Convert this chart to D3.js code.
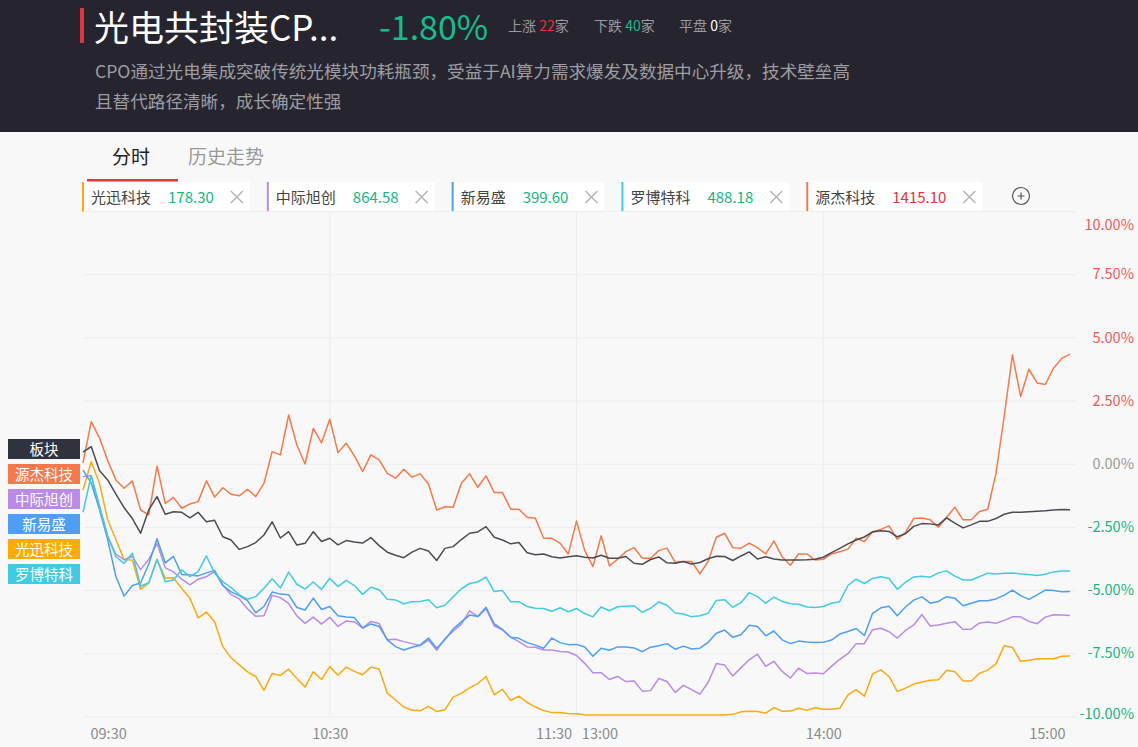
<!DOCTYPE html>
<html>
<head>
<meta charset="utf-8">
<script src="https://cdn.jsdelivr.net/npm/d3@7"></script>
<style>
  body { margin: 0; background: #f8f8f8; }
  svg { display: block; font-family: "Noto Sans CJK SC", "Noto Sans", sans-serif; }
</style>
</head>
<body>
<svg id="chart" width="1138" height="747"></svg>
<script>
// one sample every 2 minutes, 09:30 -> 11:30 | 13:00 -> 15:00 (240 trading minutes)
var step = 2

var sector = [0.48, 0.70, -0.25, -0.62, -1.18, -1.72, -2.15, -2.73, -1.8, -1.28,
  -1.98, -1.88, -1.90, -2.12, -1.9, -2.28, -2.22, -2.87, -3.0, -3.37,
  -3.26, -3.10, -2.80, -2.28, -2.92, -2.67, -3.2, -3.13, -2.67, -3.06,
  -2.93, -3.19, -3.02, -3.08, -3.12, -2.9, -3.22, -3.48, -3.6, -3.7,
  -3.48, -3.33, -3.43, -3.81, -3.33, -3.26, -2.98, -2.73, -2.68, -2.47,
  -2.89, -3.0, -3.15, -3.10, -3.5, -3.58, -3.55, -3.66, -3.71, -3.66,
  -3.62, -3.68, -3.71, -3.6, -3.72, -3.72, -3.65, -3.92, -3.96, -3.77,
  -3.67, -3.9, -3.92, -3.85, -3.95, -3.89, -3.74, -3.64, -3.65, -3.81,
  -3.63, -3.47, -3.75, -3.66, -3.75, -3.79, -3.79, -3.79, -3.78, -3.76,
  -3.68, -3.5, -3.33, -3.15, -3.0, -2.88, -2.68, -2.63, -2.66, -2.87,
  -2.75, -2.46, -2.35, -2.36, -2.40, -2.12, -2.33, -2.52, -2.40, -2.26,
  -2.26, -2.15, -1.98, -1.90, -1.90, -1.88, -1.86, -1.84, -1.81, -1.79, -1.80]

var yuanjie = [0.05, 1.69, 1.05, 0.15, -0.62, -0.95, -0.66, -1.81, -2.0, -0.07,
  -1.55, -1.31, -1.74, -1.57, -1.48, -0.66, -1.3, -0.93, -1.19, -1.25,
  -0.99, -1.28, -0.75, 0.5, 0.37, 1.95, 0.76, 0.01, 1.42, 0.85,
  1.78, 0.46, 0.83, 0.33, -0.29, 0.37, 0.17, -0.36, -0.55, -0.2,
  -0.51, -0.38, -0.78, -1.81, -1.68, -1.70, -0.75, -0.38, -0.91, -0.46,
  -1.12, -1.12, -1.78, -1.78, -2.10, -2.14, -2.93, -2.93, -3.13, -3.55,
  -2.25, -3.42, -4.05, -2.83, -4.02, -3.76, -3.46, -3.3, -3.72, -3.72,
  -3.42, -3.32, -3.88, -3.85, -3.85, -4.34, -3.85, -2.89, -2.73, -3.3,
  -3.32, -3.12, -3.3, -3.55, -3.04, -3.66, -4.0, -3.55, -3.55, -3.79,
  -3.76, -3.55, -3.46, -3.36, -2.93, -3.06, -2.67, -2.58, -2.44, -2.97,
  -2.7, -2.15, -2.13, -2.2, -2.49, -2.1, -1.7, -2.2, -2.2, -1.87,
  -1.78, -0.36, 1.9, 4.33, 2.68, 3.76, 3.22, 3.16, 3.8, 4.19, 4.36]

var zhongji = [-0.49, -0.45, -1.7, -2.85, -3.56, -3.78, -3.65, -4.17, -3.76, -3.13,
  -4.1, -4.26, -4.55, -4.77, -4.55, -4.45, -4.25, -4.78, -5.16, -5.33,
  -5.72, -6.02, -6.0, -5.19, -5.28, -5.51, -6.0, -6.3, -6.05, -6.33,
  -6.06, -6.42, -6.2, -6.24, -6.48, -6.22, -6.3, -6.95, -6.93, -7.02,
  -7.1, -7.17, -6.96, -7.36, -6.9, -6.61, -6.33, -5.8, -6.03, -5.72,
  -6.4, -6.55, -6.85, -7.02, -7.23, -7.24, -7.35, -7.35, -7.41, -7.43,
  -7.57, -7.88, -8.25, -8.25, -8.52, -8.4, -8.6, -8.58, -8.98, -8.96,
  -8.48, -8.6, -9.03, -8.75, -8.92, -9.1, -8.64, -7.89, -7.95, -8.38,
  -8.05, -7.74, -7.52, -8.0, -7.8, -8.2, -8.46, -8.07, -8.28, -8.26,
  -8.29, -8.0, -7.72, -7.5, -7.1, -7.1, -6.55, -6.49, -6.63, -6.88,
  -6.58, -6.36, -5.95, -6.4, -6.36, -6.29, -6.23, -6.54, -6.52, -6.28,
  -6.24, -6.29, -6.18, -6.04, -6.04, -6.22, -6.31, -6.05, -5.96, -5.97, -5.99]

var xinyisheng = [-0.23, -0.75, -1.78, -2.98, -4.45, -5.22, -4.8, -4.7, -3.95, -2.95,
  -3.9, -3.65, -4.36, -4.38, -4.42, -4.3, -4.2, -4.8, -5.05, -5.2,
  -5.4, -5.88, -5.63, -5.06, -5.14, -5.17, -5.67, -5.77, -5.3, -5.75,
  -5.63, -6.0, -6.05, -6.07, -6.48, -6.32, -6.42, -6.95, -7.22, -7.35,
  -7.24, -7.16, -6.88, -7.28, -6.95, -6.52, -6.24, -5.97, -6.03, -5.66,
  -6.32, -6.54, -6.85, -6.89, -7.06, -7.16, -7.28, -6.88, -7.06, -7.14,
  -7.13, -7.23, -7.6, -7.28, -7.36, -7.23, -7.23, -7.27, -7.42, -7.24,
  -7.18, -7.1, -7.32, -7.2, -7.31, -7.28, -7.05, -6.69, -6.56, -6.85,
  -6.75, -6.37, -6.42, -6.79, -6.6, -6.95, -7.1, -7.0, -7.04, -7.06,
  -7.05, -6.96, -6.72, -6.62, -6.5, -6.78, -5.9, -5.68, -5.62, -6.0,
  -5.65, -5.38, -5.25, -5.5, -5.43, -5.24, -5.3, -5.6, -5.5, -5.4,
  -5.4, -5.33, -5.18, -4.98, -5.2, -5.35, -5.17, -4.98, -5.0, -5.05, -5.04]

var guangxun = [-1.02, 0.1, -0.75, -2.2, -2.98, -3.78, -3.79, -4.95, -4.7, -3.77,
  -4.5, -4.49, -4.92, -5.3, -6.08, -5.85, -6.23, -7.22, -7.66, -7.94,
  -8.22, -8.4, -8.95, -8.28, -8.36, -8.11, -8.48, -8.82, -8.21, -8.52,
  -8.01, -8.35, -8.03, -8.2, -8.33, -8.03, -8.1, -9.06, -9.33, -9.61,
  -9.74, -9.76, -9.58, -9.79, -9.72, -9.22, -9.07, -8.85, -8.68, -8.40,
  -9.12, -8.91, -9.35, -9.18, -9.43, -9.61, -9.75, -9.83, -9.83, -9.87,
  -9.88, -9.92, -9.92, -9.92, -9.92, -9.92, -9.92, -9.92, -9.92, -9.92,
  -9.92, -9.92, -9.92, -9.92, -9.92, -9.92, -9.92, -9.92, -9.92, -9.9,
  -9.8, -9.78, -9.79, -9.85, -9.63, -9.78, -9.77, -9.66, -9.74, -9.64,
  -9.7, -9.7, -9.66, -9.13, -8.92, -9.18, -8.3, -8.14, -8.4, -9.0,
  -8.86, -8.7, -8.62, -8.55, -8.53, -8.15, -8.21, -8.58, -8.58, -8.27,
  -8.15, -7.9, -7.18, -7.25, -7.8, -7.76, -7.7, -7.7, -7.7, -7.6, -7.59]

var luobo = [-1.9, -0.45, -1.65, -2.85, -3.66, -3.92, -3.52, -4.83, -4.69, -3.76,
  -4.65, -4.58, -4.18, -4.45, -4.25, -3.63, -4.31, -4.65, -4.88, -5.17,
  -5.34, -5.24, -4.91, -4.53, -4.9, -4.27, -4.75, -4.94, -4.66, -4.96,
  -4.51, -4.84, -4.6, -4.8, -5.15, -4.87, -4.97, -5.34, -5.37, -5.52,
  -5.44, -5.43, -5.36, -5.68, -5.58, -5.25, -4.93, -4.72, -4.66, -4.47,
  -5.04, -5.0, -5.44, -5.44, -5.63, -5.70, -5.71, -5.82, -5.68, -5.84,
  -5.71, -5.91, -6.04, -5.65, -5.80, -5.64, -5.62, -5.6, -5.86, -5.70,
  -5.45, -5.58, -5.89, -5.93, -6.04, -6.0, -5.9, -5.39, -5.36, -5.66,
  -5.48, -5.08, -5.24, -5.50, -5.26, -5.43, -5.52, -5.54, -5.65, -5.67,
  -5.63, -5.5, -5.44, -4.8, -4.55, -4.72, -4.52, -4.45, -4.52, -4.95,
  -4.67, -4.46, -4.43, -4.47, -4.3, -4.22, -4.43, -4.58, -4.58, -4.45,
  -4.31, -4.34, -4.31, -4.3, -4.34, -4.36, -4.4, -4.35, -4.26, -4.23, -4.23]

var chipNames = ["光迅科技", "中际旭创", "新易盛", "罗博特科", "源杰科技"]
var chipPrices = ["178.30", "864.58", "399.60", "488.18", "1415.10"]
var chipUp = [false, false, false, false, true]

var sideNames = ["板块", "源杰科技", "中际旭创", "新易盛", "光迅科技", "罗博特科"]

var yTicks = [10, 7.5, 5, 2.5, 0, -2.5, -5, -7.5, -10]
var xTicks = [0, 60, 120, 180, 240]
var xTickLabels = ["09:30", "10:30", "11:30   13:00", "14:00", "15:00"]

var boardName = "光电共封装CP..."
var boardChange = "-1.80%"
var upCount = 22, downCount = 40, flatCount = 0
var descLines = ["CPO通过光电集成突破传统光模块功耗瓶颈，受益于AI算力需求爆发及数据中心升级，技术壁垒高",
  "且替代路径清晰，成长确定性强"]

var colors = {
  sector: "#4b4b53",
  yuanjie: "#f7794a",
  zhongji: "#b98ae8",
  xinyisheng: "#4c9ff5",
  guangxun: "#fdaa10",
  luobo: "#40cbe4"
}
var chipColors = [colors.guangxun, colors.zhongji, colors.xinyisheng, colors.luobo, colors.yuanjie]
var sideColors = ["#30323e", colors.yuanjie, colors.zhongji, colors.xinyisheng, "#ffaa00", colors.luobo]

var svg = d3.select("#chart")

// header
svg.append("rect").attr("x", 0).attr("y", 0).attr("width", 1138).attr("height", 132).attr("fill", "#26252f")
svg.append("rect").attr("x", 80).attr("y", 8).attr("width", 4).attr("height", 35).attr("fill", "#e8323c")
svg.append("text").attr("x", 94).attr("y", 41).attr("fill", "#fff").style("font-size", "35px").text(boardName)
svg.append("text").attr("x", 379).attr("y", 40).attr("fill", "#13bd8c").style("font-size", "34px").text(boardChange)

var stat = svg.append("text").attr("x", 508).attr("y", 31).style("font-size", "14px").attr("fill", "#9a9aa0")
stat.append("tspan").text("上涨 ")
stat.append("tspan").attr("fill", "#f0302f").text(upCount)
stat.append("tspan").text("家")
stat.append("tspan").attr("x", 594).text("下跌 ")
stat.append("tspan").attr("fill", "#13bd8c").text(downCount)
stat.append("tspan").text("家")
stat.append("tspan").attr("x", 679).text("平盘 ")
stat.append("tspan").attr("fill", "#fff").text(flatCount)
stat.append("tspan").text("家")

descLines.forEach(function(t, i){
  svg.append("text").attr("x", 95).attr("y", 78 + i * 30).attr("fill", "#9d9da3")
    .style("font-size", "17.6px").text(t)
})

// tabs
svg.append("text").attr("x", 112).attr("y", 164).attr("fill", "#222").style("font-size", "19px").text("分时")
svg.append("text").attr("x", 188).attr("y", 164).attr("fill", "#999").style("font-size", "19px").text("历史走势")
svg.append("rect").attr("x", 87).attr("y", 179).attr("width", 91).attr("height", 2.5).attr("fill", "#e8323c")

// chips
var cx = 82
chipNames.forEach(function(name, i){
  var g = svg.append("g")
  var bg = g.append("rect").attr("y", 182).attr("height", 30).attr("fill", "#fff")
  var nameText = g.append("text").attr("x", cx + 9).attr("y", 203).attr("fill", "#444")
    .style("font-size", "15px").text(name)
  var vx = cx + 9 + nameText.node().getComputedTextLength() + 17
  var valText = g.append("text").attr("x", vx).attr("y", 203)
    .attr("fill", chipUp[i] ? "#ef2c37" : "#13b583").style("font-size", "15px").text(chipPrices[i])
  var xc = vx + valText.node().getComputedTextLength() + 23
  g.append("path").attr("d", `M${xc - 6},${191} L${xc + 6},${203} M${xc + 6},${191} L${xc - 6},${203}`)
    .attr("stroke", "#b0b0b0").attr("stroke-width", 1.3)
  var right = xc + 13
  bg.attr("x", cx).attr("width", right - cx)
  g.append("rect").attr("x", cx).attr("y", 182).attr("width", 2).attr("height", 30).attr("fill", chipColors[i])
  cx = right + 17
})
svg.append("circle").attr("cx", 1021).attr("cy", 196).attr("r", 8.5).attr("fill", "none").attr("stroke", "#555").attr("stroke-width", 1.2)
svg.append("path").attr("d", "M1017.5,196 L1024.5,196 M1021,192.5 L1021,199.5").attr("stroke", "#555").attr("stroke-width", 1.2)

// scales
var x = d3.scaleLinear().domain([0, 240]).range([83, 1070])
var y = d3.scaleLinear().domain([-10, 10]).range([716.9, 211.6])

// grid
svg.append("g").selectAll("line").data(yTicks).enter().append("line")
  .attr("x1", 83).attr("x2", 1076)
  .attr("y1", d => y(d)).attr("y2", d => y(d))
  .attr("stroke", "#ececec").attr("stroke-width", 1)
svg.append("g").selectAll("line").data([60, 120, 180]).enter().append("line")
  .attr("x1", d => x(d)).attr("x2", d => x(d))
  .attr("y1", y(10)).attr("y2", y(-10))
  .attr("stroke", "#ececec").attr("stroke-width", 1)

// y axis (right side, anchored end)
var yAxis = svg.append("g").attr("transform", "translate(1134,0)")
  .call(d3.axisLeft(y).tickValues(yTicks).tickSize(0).tickPadding(0).tickFormat(d => d.toFixed(2) + "%"))
yAxis.select(".domain").remove()
yAxis.selectAll(".tick").attr("transform", d => `translate(0,${Math.min(Math.max(y(d), 225), 714.5)})`)
yAxis.selectAll("text")
  .style("font-size", "14.5px")
  .style("font-family", '"Noto Sans CJK SC", "Noto Sans", sans-serif')
  .attr("fill", d => d > 0 ? "#f2585a" : d < 0 ? "#1ab585" : "#9a9a9a")

// x axis
var xAxis = svg.append("g").attr("transform", "translate(0,726)")
  .call(d3.axisBottom(x).tickValues(xTicks).tickSize(0).tickPadding(3).tickFormat((d, i) => xTickLabels[i]))
xAxis.select(".domain").remove()
xAxis.selectAll("text")
  .style("font-size", "14.5px")
  .style("font-family", '"Noto Sans CJK SC", "Noto Sans", sans-serif')
  .style("white-space", "pre")
  .attr("fill", "#8a8a8a")
xAxis.selectAll(".tick").filter(d => d == 0).select("text").attr("text-anchor", "start").attr("x", 7)
xAxis.selectAll(".tick").filter(d => d == 240).select("text").attr("text-anchor", "end").attr("x", -5)

// lines
var line = d3.line().x((d, i) => x(i * step)).y(d => y(d))
var series = [
  {values: guangxun, color: colors.guangxun},
  {values: zhongji, color: colors.zhongji},
  {values: xinyisheng, color: colors.xinyisheng},
  {values: luobo, color: colors.luobo},
  {values: yuanjie, color: colors.yuanjie},
  {values: sector, color: colors.sector}
]
svg.append("g").selectAll("path").data(series).enter().append("path")
  .attr("d", d => line(d.values))
  .attr("fill", "none")
  .attr("stroke", d => d.color)
  .attr("stroke-width", 1.5)
  .attr("stroke-linejoin", "round")

// side labels
sideNames.forEach(function(n, i){
  svg.append("rect").attr("x", 8).attr("y", 439 + i * 25).attr("width", 72).attr("height", 20).attr("fill", sideColors[i])
  svg.append("text").attr("x", 44).attr("y", 454.5 + i * 25).attr("text-anchor", "middle")
    .attr("fill", "#fff").style("font-size", "14.5px").text(n)
})
</script>
</body>
</html>
